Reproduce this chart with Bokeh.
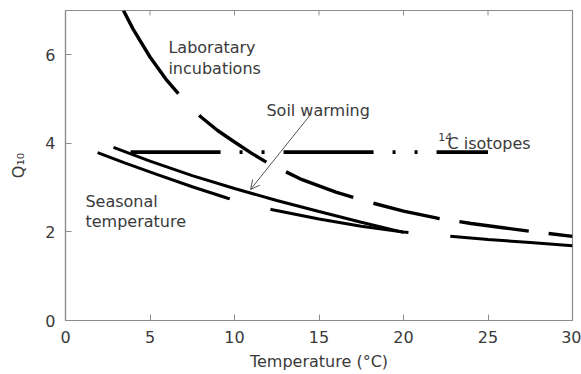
import math
from bokeh.plotting import figure
from bokeh.models import FixedTicker, Arrow, OpenHead, Range1d
from bokeh.core.properties import value
from bokeh.embed import file_html
from bokeh.resources import INLINE

# ---- data ----
x_ticks = [0, 5, 10, 15, 20, 25, 30]
y_ticks = [0, 2, 4, 6]
top_ticks = [5, 10, 15, 20, 25]

lab_T = [3.43, 4.0, 5.0, 6.0, 7.0, 8.0, 9.0, 10.0, 11.0, 12.0, 14.0, 16.0, 18.0, 20.0, 22.0, 24.0, 26.0, 28.0, 30.0]
lab_Q = [7.0, 6.58, 5.95, 5.42, 4.98, 4.60, 4.29, 4.03, 3.78, 3.55, 3.18, 2.90, 2.67, 2.47, 2.31, 2.19, 2.09, 1.99, 1.90]

seas_T = [1.9, 3.5, 5.4, 7.5, 9.6, 12.25, 15.0, 17.5, 20.0, 22.5, 25.0, 27.5, 30.0]
seas_Q = [3.79, 3.56, 3.30, 3.02, 2.76, 2.50, 2.29, 2.13, 2.00, 1.91, 1.83, 1.76, 1.69]

soil_T = [2.84, 5.0, 7.5, 10.0, 12.5, 15.0, 17.5, 20.0]
soil_Q = [3.91, 3.60, 3.27, 2.98, 2.71, 2.46, 2.22, 1.99]

c14_T = [3.85, 25.0]
c14_Q = [3.8, 3.8]

FONT = "DejaVu Sans"
TXT = "#3a3a3a"
AX = "#8c8c8c"
Y_MAX = 7

p = figure(width=581, height=374, x_range=Range1d(0, 30), y_range=Range1d(0, Y_MAX),
           output_backend="svg", toolbar_location=None,
           min_border_left=65, min_border_right=9, min_border_top=10, min_border_bottom=54)
p.background_fill_color = "white"
p.border_fill_color = "white"
p.outline_line_color = AX
p.outline_line_width = 1.2
p.xgrid.visible = False
p.ygrid.visible = False

for ax, ticks in ((p.xaxis[0], x_ticks), (p.yaxis[0], y_ticks)):
    ax.ticker = FixedTicker(ticks=ticks)
    ax.minor_tick_line_color = None
    ax.major_tick_in = 6
    ax.major_tick_out = 0
    ax.major_tick_line_color = AX
    ax.axis_line_color = AX
    ax.axis_line_width = 1.2
    ax.major_label_text_font = FONT
    ax.major_label_text_font_size = "16px"
    ax.major_label_text_color = TXT
    ax.major_label_standoff = 10
    ax.axis_label_text_font = FONT
    ax.axis_label_text_font_size = "16px"
    ax.axis_label_text_font_style = "normal"
    ax.axis_label_text_color = TXT

p.xaxis.axis_label = "Temperature (°C)"
p.xaxis.axis_label_standoff = 6
p.yaxis.axis_label = "Q₁₀"
p.yaxis.axis_label_standoff = 14

# inward tick marks on the top frame edge
p.ray(x=top_ticks, y=[Y_MAX] * len(top_ticks), length=5, length_units="screen",
      angle=-math.pi / 2, line_color=AX, line_width=1)

# curves
p.line(lab_T, lab_Q, line_color="black", line_width=3.4,
       line_dash="100 30 82 22 72 21 68 20 70 20")
p.line(seas_T, seas_Q, line_color="black", line_width=3, line_dash="140 42")
p.line(soil_T, soil_Q, line_color="black", line_width=3)
p.line(c14_T, c14_Q, line_color="black", line_width=3.8, line_dash="90 19 3 19 3 19")

# arrow for soil warming
p.add_layout(Arrow(end=OpenHead(size=9, line_color="#555555", line_width=1),
                   x_start=14.56, y_start=4.68, x_end=10.95, y_end=2.96,
                   line_color="#555555", line_width=1))

# labels
lab_x = [6.09, 6.09, 11.89, 22.6, 1.18, 1.18]
lab_y = [6.16, 5.69, 4.74, 4.0, 2.69, 2.24]
lab_text = ["Laboratary", "incubations", "Soil warming", "C isotopes", "Seasonal", "temperature"]
p.text(x=lab_x, y=lab_y, text=lab_text, text_font=value(FONT), text_font_size="16px",
       text_color=TXT, text_align="left", text_baseline="alphabetic")
p.text(x=[22.05], y=[4.15], text=["14"], text_font=value(FONT), text_font_size="11px",
       text_color=TXT, text_align="left", text_baseline="alphabetic")

open("out.html", "w").write(file_html(p, INLINE))
